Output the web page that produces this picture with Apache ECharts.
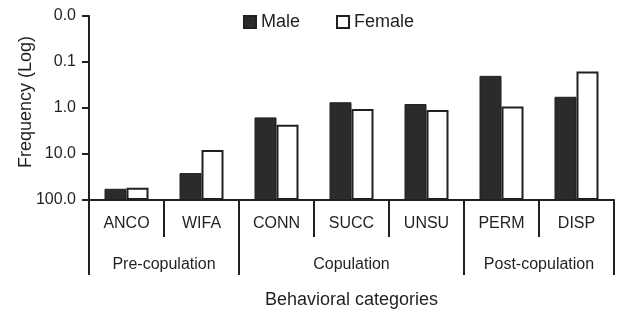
<!DOCTYPE html>
<html>
<head>
<meta charset="utf-8">
<script src="https://cdn.jsdelivr.net/npm/echarts@6/dist/echarts.min.js"></script>
<style>
  html, body { margin: 0; padding: 0; background: #fff; }
  #main { width: 619px; height: 312px; }
</style>
</head>
<body>
<div id="main"></div>
<script>
// behaviour codes and their phase groups
const categories = ['ANCO', 'WIFA', 'CONN', 'SUCC', 'UNSU', 'PERM', 'DISP'];
const groups = ['Pre-copulation', 'Copulation', 'Post-copulation'];
const groupSpans = [2, 3, 2];

// frequencies
const maleFreq = [57, 26, 1.6, 0.75, 0.82, 0.2, 0.57];
const femaleFreq = [54, 8.2, 2.3, 1.05, 1.1, 0.93, 0.16];

const yTicks = [100, 10, 1, 0.1, 0.01];

const ink = '#231f20';
const font = 'Liberation Sans, Arial, Helvetica, sans-serif';

// axis runs from 100 (bottom) up to 0.01 (top), bars grow from the bottom
const toAxis = v => 2 - Math.log10(v);
const fromAxis = t => Math.pow(10, 2 - t);

const bounds = [0];
groupSpans.forEach((s, i) => bounds.push(bounds[i] + s));
const centers = groupSpans.map((s, i) => bounds[i] + s / 2);

const chart = echarts.init(document.getElementById('main'), null, { renderer: 'canvas' });

const option = {
  animation: false,
  textStyle: { fontFamily: font, color: ink },
  legend: {
    left: 243,
    top: 13,
    padding: 0,
    itemWidth: 12,
    itemHeight: 12,
    itemGap: 36,
    icon: 'rect',
    textStyle: { fontSize: 18, color: ink, fontFamily: font },
    data: ['Male', 'Female']
  },
  grid: {
    left: 89,
    right: 5,
    top: 16,
    bottom: 112,
    containLabel: false,
    outerBoundsMode: 'none'
  },
  xAxis: [{
    type: 'category',
    data: categories,
    axisLine: { lineStyle: { color: ink, width: 2 } },
    axisTick: { show: true, interval: 0, length: 37, lineStyle: { color: ink, width: 2 } },
    axisLabel: { interval: 0, margin: 16, fontSize: 16, color: ink, fontFamily: font },
    name: 'Behavioral categories',
    nameLocation: 'middle',
    nameGap: 91,
    nameTextStyle: { fontSize: 18, color: ink, fontFamily: font }
  }, {
    type: 'value',
    position: 'bottom',
    min: 0,
    max: categories.length,
    axisLine: { show: false },
    splitLine: { show: false },
    axisTick: { show: true, customValues: bounds, length: 75, lineStyle: { color: ink, width: 2 } },
    axisLabel: {
      customValues: centers,
      margin: 57,
      fontSize: 16,
      color: ink,
      fontFamily: font,
      formatter: v => groups[centers.indexOf(v)] || ''
    }
  }],
  yAxis: {
    type: 'value',
    min: 0,
    max: 4,
    interval: 1,
    name: 'Frequency (Log)',
    nameLocation: 'middle',
    nameGap: 54,
    nameMoveOverlap: false,
    nameTextStyle: { fontSize: 18, color: ink, fontFamily: font, padding: [0, 0, 0, 12] },
    axisLine: { show: true, lineStyle: { color: ink, width: 2 } },
    axisTick: { show: true, length: 7, lineStyle: { color: ink, width: 2 } },
    splitLine: { show: false },
    axisLabel: {
      margin: 13,
      fontSize: 16,
      color: ink,
      fontFamily: font,
      formatter: v => fromAxis(v).toFixed(1)
    }
  },
  series: [{
    name: 'Male',
    type: 'bar',
    barWidth: 22,
    barGap: '0%',
    itemStyle: { color: '#2b2b2b', borderColor: ink, borderWidth: 1 },
    data: maleFreq.map(toAxis)
  }, {
    name: 'Female',
    type: 'bar',
    barWidth: 22,
    barGap: '0%',
    itemStyle: { color: '#ffffff', borderColor: ink, borderWidth: 2 },
    data: femaleFreq.map(toAxis)
  }]
};

chart.setOption(option);
</script>
</body>
</html>
